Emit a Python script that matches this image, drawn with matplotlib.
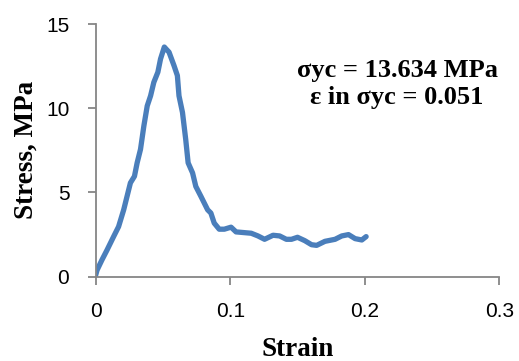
import matplotlib.pyplot as plt

# strain / stress
strain = [0.000, 0.001, 0.0046, 0.0084, 0.0133, 0.017, 0.0208, 0.0233, 0.0258,
          0.0288, 0.0308, 0.0333, 0.0358, 0.0383, 0.0408, 0.0432, 0.0462, 0.0482,
          0.051, 0.0525, 0.0545, 0.0582, 0.0607, 0.0619, 0.0645, 0.0669, 0.0687,
          0.072, 0.0744, 0.0782, 0.0807, 0.0832, 0.0856, 0.0881, 0.0918, 0.0956,
          0.1006, 0.1043, 0.1156, 0.1206, 0.1255, 0.1318, 0.1367, 0.1417, 0.1455,
          0.150, 0.1554, 0.1604, 0.1642, 0.1704, 0.1779, 0.1829, 0.1879, 0.1928,
          0.1978, 0.201]
stress = [0.1, 0.39, 0.99, 1.58, 2.38, 2.97, 3.97, 4.77, 5.57,
          5.96, 6.76, 7.56, 8.95, 10.14, 10.74, 11.54, 12.14, 12.93,
          13.634, 13.5, 13.33, 12.53, 11.94, 10.74, 9.75, 8.15, 6.76,
          6.16, 5.36, 4.77, 4.37, 3.97, 3.78, 3.18, 2.82, 2.82,
          2.94, 2.66, 2.58, 2.42, 2.22, 2.46, 2.42, 2.22, 2.22,
          2.34, 2.14, 1.90, 1.86, 2.10, 2.22, 2.42, 2.50, 2.26,
          2.18, 2.38]

x_ticks = [0, 0.1, 0.2, 0.3]
x_labels = ['0', '0.1', '0.2', '0.3']
y_ticks = [0, 5, 10, 15]

fig = plt.figure(figsize=(5.19, 3.61), dpi=100)
ax = fig.add_axes([0.1844, 0.2335, 0.7777, 0.700])

ax.plot(strain, stress, color='#4A7EBB', linewidth=3.8, solid_capstyle='round',
        solid_joinstyle='round')

ax.set_xlim(0, 0.3)
ax.set_ylim(0, 15)
ax.set_xticks(x_ticks)
ax.set_xticklabels(x_labels)
ax.set_yticks(y_ticks)

for s in ['top', 'right']:
    ax.spines[s].set_visible(False)
for s in ['left', 'bottom']:
    ax.spines[s].set_color('#868686')
    ax.spines[s].set_linewidth(1.3)

ax.tick_params(axis='both', direction='out', length=6, width=1.3, color='#868686',
               labelsize=15)
ax.tick_params(axis='x', pad=12)
ax.tick_params(axis='y', pad=13)
for lab in ax.get_xticklabels() + ax.get_yticklabels():
    lab.set_family('Liberation Sans')

ax.set_xlabel('Strain', fontsize=19.5, fontweight='bold', family='Liberation Serif',
              labelpad=12)
ax.set_ylabel('Stress, MPa', fontsize=19.5, fontweight='bold', family='Liberation Serif',
              labelpad=5)

ax.text(0.224, 11.45, 'σyc = 13.634 MPa\nε in σyc = 0.051', ha='center', va='center',
        fontsize=19, fontweight='bold', family='Liberation Serif', linespacing=1.2)

plt.savefig('out.png', dpi=100)
